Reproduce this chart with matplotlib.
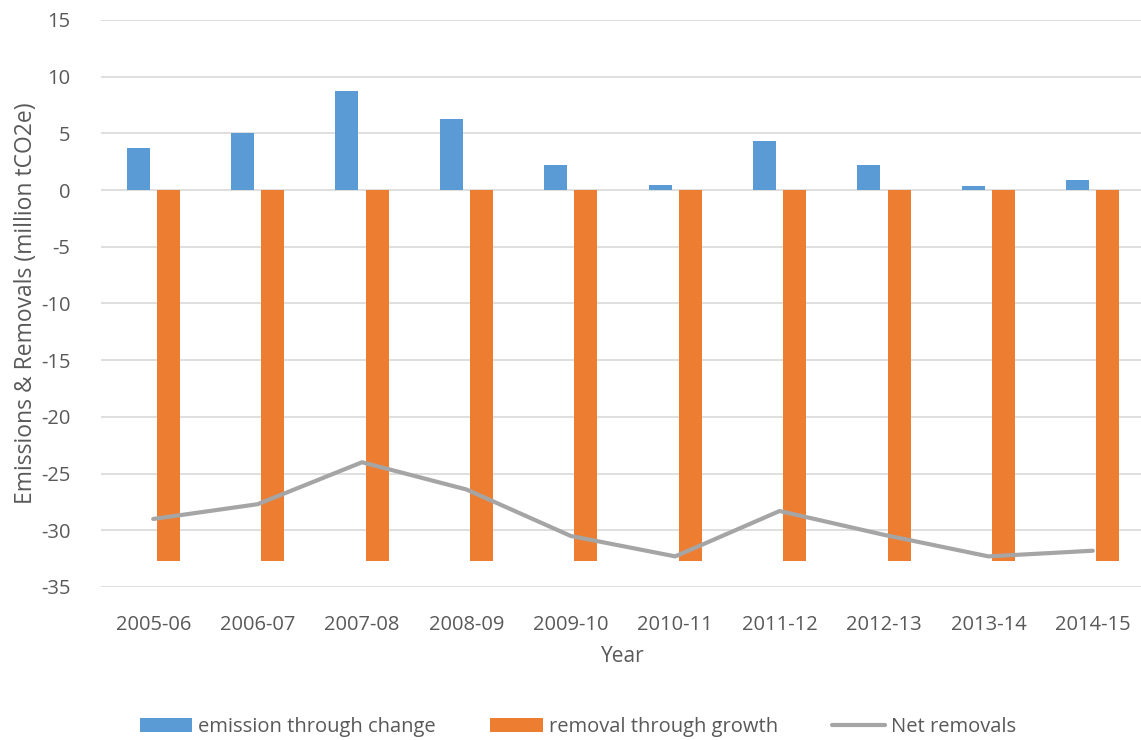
import matplotlib
matplotlib.use("Agg")
import matplotlib.pyplot as plt
import numpy as np

years = ["2005-06", "2006-07", "2007-08", "2008-09", "2009-10",
         "2010-11", "2011-12", "2012-13", "2013-14", "2014-15"]
emission = [3.7, 5.0, 8.7, 6.3, 2.2, 0.45, 4.35, 2.25, 0.4, 0.9]
removal = [-32.7, -32.7, -32.7, -32.7, -32.7, -32.7, -32.7, -32.7, -32.7, -32.7]
net = [-29.0, -27.7, -24.0, -26.4, -30.5, -32.3, -28.3, -30.4, -32.3, -31.8]

BLUE = "#5B9BD5"
ORANGE = "#ED7D31"
GREY = "#A5A5A5"
TXT = "#595959"
GRID = "#D9D9D9"

plt.rcParams['font.family'] = ['Open Sans', 'DejaVu Sans']
plt.rcParams['axes.unicode_minus'] = False

W, H = 1141, 740
fig = plt.figure(figsize=(W / 100, H / 100), dpi=100)
left, right, top, bottom = 101, 1145, 20, 587
ax = fig.add_axes([left / W, 1 - bottom / H, (right - left) / W, (bottom - top) / H])

x = np.arange(len(years))
bw = 0.22
off = 0.145
b1 = ax.bar(x - off, emission, bw, color=BLUE, label="emission through change", zorder=2)
b2 = ax.bar(x + off, removal, bw, color=ORANGE, label="removal through growth", zorder=2)
l1, = ax.plot(x, net, color=GREY, lw=3, label="Net removals", zorder=3, solid_capstyle='round')

ax.set_xlim(-0.5, len(years) - 0.5)
ax.set_ylim(-35, 15)
ax.set_yticks(np.arange(-35, 16, 5))
ax.set_xticks(x)
ax.set_xticklabels(years)
ax.grid(axis='y', color=GRID, lw=1.2, zorder=0)
ax.set_axisbelow(True)
for s in ax.spines.values():
    s.set_visible(False)
ax.tick_params(axis='both', length=0, labelsize=14.5, colors=TXT)
ax.tick_params(axis='y', pad=22)
ax.tick_params(axis='x', pad=20)

ax.set_ylabel("Emissions & Removals (million tCO2e)", fontsize=16.5, color=TXT, labelpad=2)
ax.set_xlabel("Year", fontsize=15, color=TXT, labelpad=8)

fig.legend(handles=[b1, b2, l1], loc='center', bbox_to_anchor=(578 / W, 1 - 727 / H), ncol=3,
           frameon=False, fontsize=14.5, labelcolor=TXT, handlelength=2.6, handleheight=0.7,
           handletextpad=0.3, columnspacing=2.7)

fig.savefig("out.png", dpi=100, facecolor="white")
